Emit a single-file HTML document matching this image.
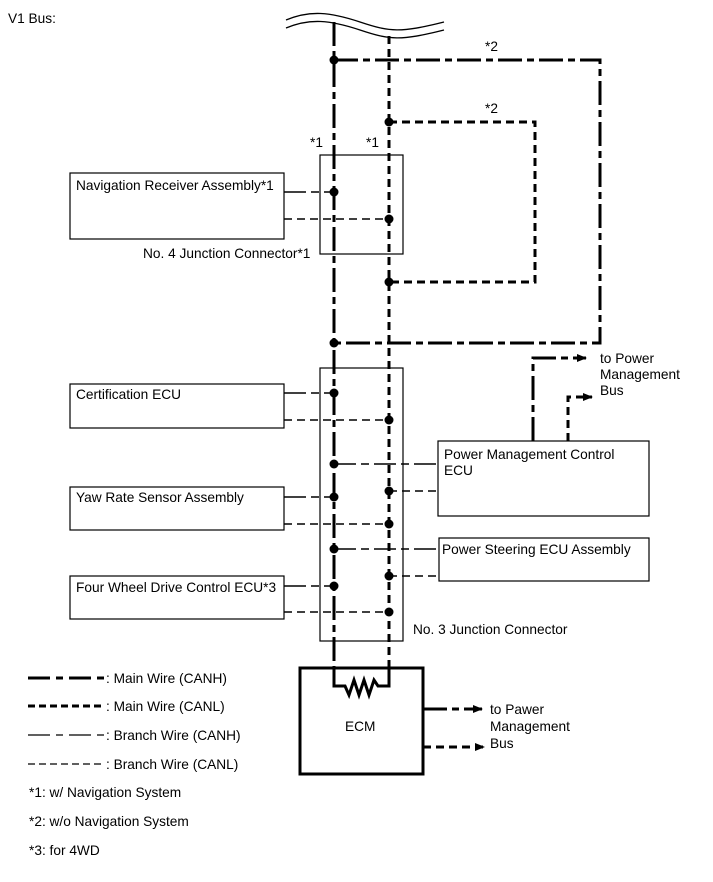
<!DOCTYPE html>
<html><head><style>
body{margin:0;background:#fff;}
svg{display:block;font-family:"Liberation Sans",Arial,sans-serif;}
</style></head><body>
<svg width="713" height="882" viewBox="0 0 713 882" xmlns="http://www.w3.org/2000/svg">
<defs>
<marker id="ar" markerWidth="10" markerHeight="8" refX="9" refY="4" orient="auto" markerUnits="userSpaceOnUse"><path d="M0,0 L10,4 L0,8 z" fill="#000"/></marker>
</defs>
<style>
.mh{stroke:#000;stroke-width:3;fill:none;stroke-dasharray:24 5 7 5}
.ml{stroke:#000;stroke-width:3;fill:none;stroke-dasharray:8 5}
.bh{stroke:#000;stroke-width:1.4;fill:none;stroke-dasharray:22 5 8 5}
.bl{stroke:#000;stroke-width:1.4;fill:none;stroke-dasharray:8 5}
.bx{stroke:#000;stroke-width:1.2;fill:#fff}
text{font-size:13.7px;fill:#000}
</style>
<text x="8" y="23" font-size="15">V1 Bus:</text>
<path d="M286,20 C310,10 330,12 360,22 S400,33 444,22" stroke="#000" stroke-width="1.3" fill="none"/>
<path d="M286,28 C310,18 330,20 360,30 S400,41 444,30" stroke="#000" stroke-width="1.3" fill="none"/>
<path class="mh" d="M334,60 H600 V343 H334"/>
<path class="ml" d="M389,122 H535 V282 H389"/>
<text x="485" y="51">*2</text>
<text x="485" y="113">*2</text>
<text x="310" y="147">*1</text>
<text x="366" y="147">*1</text>
<rect class="bx" x="320" y="155" width="83" height="99"/>
<rect class="bx" x="320" y="368" width="83" height="273"/>
<path class="mh" d="M334,22 V688"/>
<path class="ml" d="M389,36 V688"/>
<rect class="bx" x="70" y="173" width="214" height="66"/>
<text x="76" y="190">Navigation Receiver Assembly*1</text>
<text x="143" y="258">No. 4 Junction Connector*1</text>
<rect class="bx" x="70" y="384" width="214" height="44"/>
<text x="76" y="399">Certification ECU</text>
<rect class="bx" x="70" y="487" width="214" height="43"/>
<text x="76" y="502">Yaw Rate Sensor Assembly</text>
<rect class="bx" x="70" y="576" width="214" height="43"/>
<text x="76" y="592">Four Wheel Drive Control ECU*3</text>
<text x="413" y="634">No. 3 Junction Connector</text>
<path class="bh" d="M284,192 H334"/><path class="bl" d="M284,219 H389"/>
<path class="bh" d="M284,393 H334"/><path class="bl" d="M284,420 H389"/>
<path class="bh" d="M284,497 H334"/><path class="bl" d="M284,524 H389"/>
<path class="bh" d="M284,586 H334"/><path class="bl" d="M284,612 H389"/>
<rect class="bx" x="438" y="441" width="211" height="75"/>
<text x="444" y="459">Power Management Control</text>
<text x="444" y="475">ECU</text>
<rect class="bx" x="439" y="538" width="210" height="43"/>
<text x="442" y="554">Power Steering ECU Assembly</text>
<path class="bh" d="M334,464 H438"/><path class="bl" d="M389,491 H438"/>
<path class="bh" d="M334,549 H439"/><path class="bl" d="M389,576 H439"/>
<path class="mh" d="M533,441 V358 H586" marker-end="url(#ar)"/>
<path class="ml" d="M568,441 V397 H592" marker-end="url(#ar)"/>
<text x="600" y="363">to Power</text>
<text x="600" y="379">Management</text>
<text x="600" y="395">Bus</text>
<g fill="#000">
<circle cx="334" cy="60" r="4.5"/><circle cx="389" cy="122" r="4.5"/>
<circle cx="334" cy="192" r="4.5"/><circle cx="389" cy="219" r="4.5"/>
<circle cx="389" cy="282" r="4.5"/><circle cx="334" cy="343" r="4.5"/>
<circle cx="334" cy="393" r="4.5"/><circle cx="389" cy="420" r="4.5"/>
<circle cx="334" cy="464" r="4.5"/><circle cx="389" cy="491" r="4.5"/>
<circle cx="334" cy="497" r="4.5"/><circle cx="389" cy="524" r="4.5"/>
<circle cx="334" cy="549" r="4.5"/><circle cx="389" cy="576" r="4.5"/>
<circle cx="334" cy="586" r="4.5"/><circle cx="389" cy="612" r="4.5"/>
</g>
<rect x="300" y="668" width="123" height="106" fill="#fff" stroke="#000" stroke-width="3"/>
<path d="M334,668 V686 H345 L349,695 L354,680 L359,695 L364,680 L369,695 L374,680 L378,686 H389 V668" stroke="#000" stroke-width="3" fill="none"/>
<text x="345" y="731">ECM</text>
<path class="mh" d="M423,709 H482" marker-end="url(#ar)"/>
<path class="ml" d="M423,747 H484" marker-end="url(#ar)"/>
<text x="490" y="714">to Pawer</text>
<text x="490" y="731">Management</text>
<text x="490" y="748">Bus</text>
<path d="M28,678 H105" stroke="#000" stroke-width="3" stroke-dasharray="22 6 7 6"/>
<path d="M28,706 H105" stroke="#000" stroke-width="3" stroke-dasharray="7 4"/>
<path d="M28,735 H105" stroke="#000" stroke-width="1.3" stroke-dasharray="22 6 7 6"/>
<path d="M28,764 H105" stroke="#000" stroke-width="1.3" stroke-dasharray="7 4"/>
<text x="106" y="683">: Main Wire (CANH)</text>
<text x="106" y="711">: Main Wire (CANL)</text>
<text x="106" y="740">: Branch Wire (CANH)</text>
<text x="106" y="769">: Branch Wire (CANL)</text>
<text x="29" y="797">*1: w/ Navigation System</text>
<text x="29" y="826">*2: w/o Navigation System</text>
<text x="29" y="855">*3: for 4WD</text>
</svg>
</body></html>
